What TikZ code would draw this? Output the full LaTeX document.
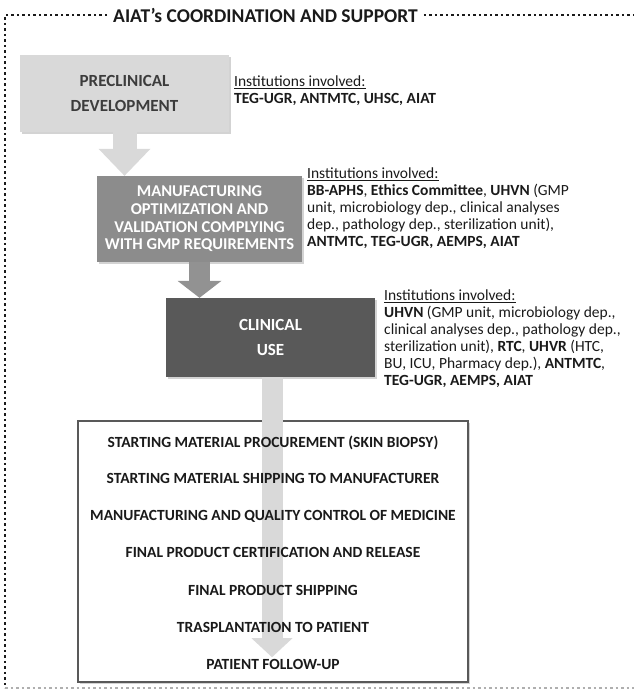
\documentclass[tikz,border=0pt]{standalone}
\usepackage{fontspec}
\setmainfont{Carlito}
\usepackage{xcolor}
\usepackage{tikz}
\usetikzlibrary{arrows.meta,positioning,shadows}
\definecolor{phlight}{HTML}{D9D9D9}
\definecolor{phmid}{HTML}{8C8C8C}
\definecolor{phdark}{HTML}{595959}
\definecolor{phink}{HTML}{1A1A1A}

\begin{document}
\begin{tikzpicture}[x=1pt,y=-1pt,
    phase/.style={inner sep=0pt,align=center,drop shadow={shadow xshift=1.5pt,shadow yshift=-1.5pt,opacity=.35}},
    info/.style={anchor=north west,inner sep=0pt,align=left,text=phink,font=\fontsize{15.5}{17}\selectfont},
    task/.style={anchor=base,inner sep=0pt,text=phink,font=\fontsize{15.5}{17}\selectfont\bfseries},
    flowarrow/.style={draw=#1,line width=21pt},
    dotframe/.style={draw=phink,line width=2.5pt,dash pattern=on 2.5pt off 3pt}]
  \useasboundingbox (0,0) rectangle (634,689);

  % heading and dotted frame
  \node[font=\fontsize{19.5}{22}\selectfont\bfseries,text=phink,inner sep=6pt] (title) at (265.5,15) {AIAT's COORDINATION AND SUPPORT};
  \coordinate (ftl) at (5,15);
  \coordinate (fbl) at (5,688.5);
  \coordinate (fbr) at (634,688.5);
  \coordinate (ftr) at (634,15);
  \draw[dotframe] (title.west) -- (ftl) -- (fbl);
  \draw[dotframe,draw=phink!35] (fbl) -- (fbr);
  \draw[dotframe] (title.east) -- (ftr);

  % the three phases
  \node[phase,fill=phlight,text=phink!85,minimum width=209pt,minimum height=77pt,font=\fontsize{17}{25}\selectfont\bfseries] (pre) at (124.5,93.5) {PRECLINICAL\\DEVELOPMENT};
  \node[phase,fill=phmid,text=white,minimum width=205pt,minimum height=86pt,font=\fontsize{16.5}{17.6}\selectfont\bfseries] (mfg) at (199.5,219) {MANUFACTURING\\OPTIMIZATION AND\\VALIDATION COMPLYING\\WITH GMP REQUIREMENTS};
  \node[phase,fill=phdark,text=white,minimum width=209pt,minimum height=79pt,font=\fontsize{17}{25}\selectfont\bfseries] (clin) at (270.5,337.5) {CLINICAL\\USE};

  \draw[flowarrow=phlight,line width=24pt,-{Triangle[length=27pt,width=52pt,line width=0pt]}] (pre.south) -- (pre.south |- mfg.north);
  \draw[flowarrow=phmid!95,-{Triangle[length=17pt,width=44pt,line width=0pt]}] (mfg.south) -- (mfg.south |- clin.north);

  % institutions next to each phase
  \node[info] (inst1) at (234,76) {\underline{Institutions involved:}\\
    \textbf{TEG-UGR, ANTMTC, UHSC, AIAT}};
  \node[info] (inst2) at (307,168) {\underline{Institutions involved:}\\
    \textbf{BB-APHS}, \textbf{Ethics Committee}, \textbf{UHVN} (GMP\\
    unit, microbiology dep., clinical analyses\\
    dep., pathology dep., sterilization unit),\\
    \textbf{ANTMTC, TEG-UGR, AEMPS, AIAT}};
  \node[info] (inst3) at (384,290) {\underline{Institutions involved:}\\
    \textbf{UHVN} (GMP unit, microbiology dep.,\\
    clinical analyses dep., pathology dep.,\\
    sterilization unit), \textbf{RTC}, \textbf{UHVR} (HTC,\\
    BU, ICU, Pharmacy dep.), \textbf{ANTMTC},\\
    \textbf{TEG-UGR, AEMPS, AIAT}};

  % clinical use steps
  \node[draw=phdark,line width=1.2pt,fill=white,minimum width=390pt,minimum height=261pt,drop shadow={shadow xshift=1.5pt,shadow yshift=-1.5pt,opacity=.35}] (steps) at (273,551.5) {};
  \path (clin.south) ++(1.5,280) coordinate (tip3);
  \draw[flowarrow=phlight,-{Triangle[length=19pt,width=41pt,line width=0pt]}] (clin.south) ++(1.5,0) -- (tip3);

  \node[task] (s1) at (273,447) {STARTING MATERIAL PROCUREMENT (SKIN BIOPSY)};
  \node[task] (s2) at (273,483) {STARTING MATERIAL SHIPPING TO MANUFACTURER};
  \node[task] (s3) at (273,520) {MANUFACTURING AND QUALITY CONTROL OF MEDICINE};
  \node[task] (s4) at (273,557) {FINAL PRODUCT CERTIFICATION AND RELEASE};
  \node[task] (s5) at (273,595) {FINAL PRODUCT SHIPPING};
  \node[task] (s6) at (273,632) {TRASPLANTATION TO PATIENT};
  \node[task] (s7) at (273,669) {PATIENT FOLLOW-UP};
\end{tikzpicture}
\end{document}
